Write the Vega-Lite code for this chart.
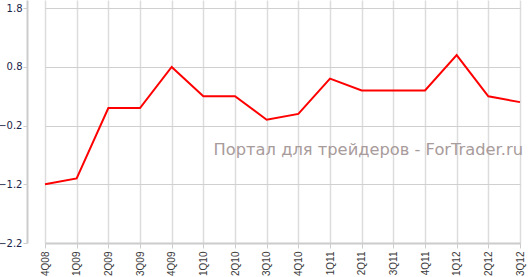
{
  "$schema": "https://vega.github.io/schema/vega-lite/v6.json",
  "autosize": "none",
  "padding": {"left": 27, "top": 0, "right": 0, "bottom": 34},
  "width": 504,
  "height": 243,
  "background": "white",
  "config": {"view": {"stroke": null}},
  "layer": [
    {
      "data": {"values": [
        {"q": "4Q08", "v": -1.2},
        {"q": "1Q09", "v": -1.1},
        {"q": "2Q09", "v": 0.1},
        {"q": "3Q09", "v": 0.1},
        {"q": "4Q09", "v": 0.8},
        {"q": "1Q10", "v": 0.3},
        {"q": "2Q10", "v": 0.3},
        {"q": "3Q10", "v": -0.1},
        {"q": "4Q10", "v": 0.0},
        {"q": "1Q11", "v": 0.6},
        {"q": "2Q11", "v": 0.4},
        {"q": "3Q11", "v": 0.4},
        {"q": "4Q11", "v": 0.4},
        {"q": "1Q12", "v": 1.0},
        {"q": "2Q12", "v": 0.3},
        {"q": "3Q12", "v": 0.2}
      ]},
      "mark": {"type": "line", "color": "#ff0000", "strokeWidth": 2},
      "encoding": {
        "x": {"field": "q", "type": "ordinal",
          "scale": {"type": "point", "range": [18, 493], "padding": 0,
            "domain": ["4Q08", "1Q09", "2Q09", "3Q09", "4Q09", "1Q10", "2Q10", "3Q10", "4Q10", "1Q11", "2Q11", "3Q11", "4Q11", "1Q12", "2Q12", "3Q12"]},
          "axis": {"title": null, "labelAngle": -90, "labelAlign": "right", "labelBaseline": "middle",
            "labelFont": "Liberation Sans", "labelFontSize": 10, "labelColor": "#3a3a3a", "labelPadding": 3,
            "grid": true, "gridColor": "#dcdcdc", "gridWidth": 1.5,
            "domainColor": "#cccccc", "domainWidth": 2, "tickColor": "#cccccc", "tickSize": 5, "tickWidth": 1}},
        "y": {"field": "v", "type": "quantitative",
          "scale": {"domain": [-2.2, 1.94], "nice": false, "zero": false},
          "axis": {"title": null, "values": [1.8, 0.8, -0.2, -1.2, -2.2], "format": ".1f",
            "labelFont": "DejaVu Sans", "labelFontSize": 10, "labelColor": "#1a2448", "labelPadding": 1,
            "grid": true, "gridColor": "#d0d0d0", "gridWidth": 1.2,
            "domainColor": "#cccccc", "domainWidth": 2, "tickColor": "#cccccc", "tickSize": 4}}
      }
    },
    {
      "data": {"values": [{"label": "Портал для трейдеров - ForTrader.ru", "q": "3Q12", "v": -0.62}]},
      "mark": {"type": "text", "font": "DejaVu Sans",
        "fontSize": 16.3, "color": "#a89b9b", "align": "right", "baseline": "middle", "dx": 3},
      "encoding": {
        "text": {"field": "label"},
        "x": {"field": "q", "type": "ordinal"},
        "y": {"field": "v", "type": "quantitative"}
      }
    }
  ]
}
